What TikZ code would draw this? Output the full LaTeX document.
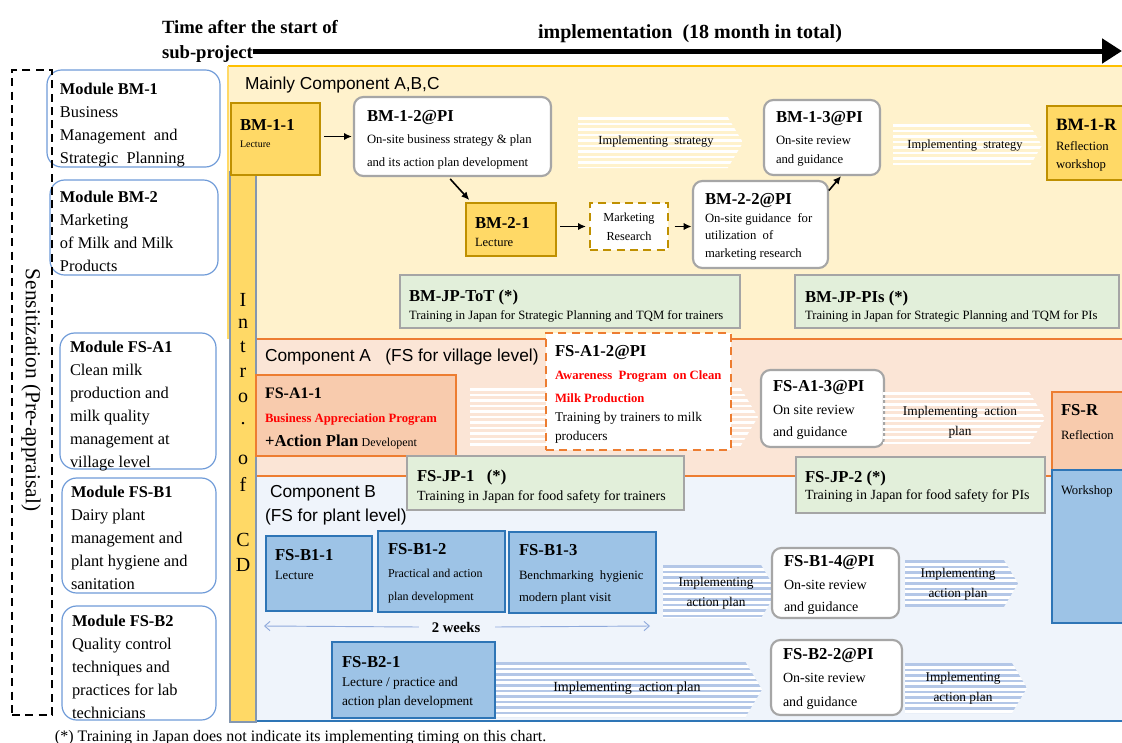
\documentclass[tikz,border=0pt]{standalone}
\usepackage{fontspec}
\setmainfont{Liberation Serif}
\setsansfont{Liberation Sans}
\usetikzlibrary{arrows.meta,calc}
\definecolor{ylbg}{HTML}{FFF2CC}
\definecolor{gold}{HTML}{FFD966}
\definecolor{goldbd}{HTML}{BF9000}
\definecolor{ytop}{HTML}{FFC000}
\definecolor{peach}{HTML}{FBE5D6}
\definecolor{orng}{HTML}{ED7D31}
\definecolor{orfill}{HTML}{F8CBAD}
\definecolor{bfill}{HTML}{9DC3E6}
\definecolor{bbd}{HTML}{2E75B6}
\definecolor{lbbg}{HTML}{EFF4FB}
\definecolor{gfill}{HTML}{E2EFDA}
\definecolor{gbd}{HTML}{A5A5A5}
\definecolor{modbd}{HTML}{6F9BD8}
\definecolor{wbd}{HTML}{A6A6A6}
\definecolor{stripeb}{HTML}{B4C7E7}
\definecolor{weeksc}{HTML}{8FAADC}
\definecolor{redt}{HTML}{FF0000}
\definecolor{introbd}{HTML}{8497B0}
\newcommand\stripechev[6]{%
  \path[#6] (#1,#2) -- ({#3-0.3*(#4-#2)},#2) -- (#3,{(#2+#4)/2}) -- ({#3-0.3*(#4-#2)},#4) -- (#1,#4) -- cycle;
  \begin{scope}
  \clip (#1,#2) -- ({#3-0.3*(#4-#2)},#2) -- (#3,{(#2+#4)/2}) -- ({#3-0.3*(#4-#2)},#4) -- (#1,#4) -- cycle;
  \pgfmathtruncatemacro\nst{(#4-#2)/5.5}
  \foreach \k in {0,...,\nst} \draw[#5, line width=1.8pt] (#1,{#2+1.5+\k*5.5}) -- (#3,{#2+1.5+\k*5.5});
  \end{scope}}
\tikzset{
  every node/.style={inner sep=0pt, outer sep=0pt},
  place/.style n args={4}{at={({(#1+#3)/2},{(#2+#4)/2})}, minimum width={(#3-#1)*0.75pt}, minimum height={(#4-#2)*0.75pt}},
  goldbox/.style={draw=goldbd, fill=gold, line width=1.6pt},
  whitebox/.style={draw=wbd, fill=white, line width=1.6pt, rounded corners=7pt},
  modbox/.style={draw=modbd, fill=white, line width=0.9pt, rounded corners=11pt},
  orbox/.style={draw=orng, fill=orfill, line width=1.6pt},
  bluebox/.style={draw=bbd, fill=bfill, line width=1.6pt},
  greenbox/.style={draw=gbd, fill=gfill, line width=1.6pt},
  dashgold/.style={draw=goldbd, fill=white, line width=2pt, dash pattern=on 6pt off 4pt},
  dashor/.style={draw=orng, fill=white, line width=2pt, dash pattern=on 6pt off 4pt},
  hd/.style={anchor=base west, font=\bfseries\fontsize{12.5}{15}\selectfont},
  tx/.style={anchor=base west, align=left},
  ctx/.style={align=center},
  modt/.style={anchor=base west, align=left, font=\fontsize{12.3}{17.25}\selectfont},
  sanst/.style={anchor=base west, font=\sffamily\fontsize{13}{15}\selectfont},
  conn/.style={-{Latex[length=6pt,width=5.5pt]}, line width=1.2pt, black},
  warr/.style={-{Straight Barb[length=4pt,width=7pt]}, line width=0.7pt, weeksc},
  introl/.style={anchor=base, font=\fontsize{15}{17}\selectfont},
}
\begin{document}
\begin{tikzpicture}[x=0.75pt,y=-0.75pt]
\useasboundingbox (0,0) rectangle (1122,743);
% ---- title
\node[anchor=base west, font=\bfseries\fontsize{14}{16}\selectfont] (t1) at (162,33) {Time after the start of};
\node[anchor=base west, font=\bfseries\fontsize{14}{16}\selectfont] (t2) at (162,58) {sub-project};
\node[anchor=base, font=\bfseries\fontsize{15}{17}\selectfont] (t3) at (690,38) {implementation\ \ (18 month in total)};
\coordinate (tip) at (1122,51);
\draw[line width=3.75pt, -{Triangle[length=15pt,width=18pt]}] (t2.east |- tip) -- (tip);
% ---- module column (multi-line nodes: base = last line)
\node[modbox, place={47}{70}{220}{167}] (m1) {};
\node[modt] (m1t) at (60,163) {\textbf{Module BM-1}\\Business\\Management\ \ and\\Strategic\ \ Planning};
\node[modbox, place={50}{180}{218}{275}] (m2) {};
\node[modt] (m2t) at (60,271) {\textbf{Module BM-2}\\Marketing\\of Milk and Milk\\Products};
\node[modbox, place={60}{333}{216}{469}] (m3) {};
\node[modt] (m3t) at (70,467) {\textbf{Module FS-A1}\\Clean milk\\production and\\milk quality\\management at\\village level};
\node[modbox, place={62}{478}{216}{593}] (m4) {};
\node[modt] (m4t) at (71,589) {\textbf{Module FS-B1}\\Dairy plant\\management and\\plant hygiene and\\sanitation};
\node[modbox, place={62}{606}{216}{720}] (m5) {};
\node[modt] (m5t) at (72,718) {\textbf{Module FS-B2}\\Quality control\\techniques and\\practices for lab\\technicians};
\node[draw, line width=1.3pt, dash pattern=on 6pt off 4pt, place={12}{70}{52}{715}] (sens) {};
\node[rotate=-90, font=\fontsize{16}{18}\selectfont] (senst) at (31,390) {Sensitization (Pre-appraisal)};
% ---- region backgrounds
\node[fill=ylbg, place={228}{66}{1122}{339}] (regY) {};
\draw[ytop, line width=1.6pt] (regY.north west) -- (regY.north east);
\draw[gold, line width=1.2pt] (regY.north west) -- (regY.south west);
\node[fill=peach, place={255}{339}{1122}{476}] (regA) {};
\draw[orng, line width=2pt] (regA.north east) -- (regA.north west) -- (regA.south west) -- (regA.south east);
\node[fill=lbbg, place={255}{476}{1122}{721}] (regB) {};
\draw[bbd, line width=2pt] (regB.north west) -- (regB.south west) -- (regB.south east);
\draw[orng, line width=2pt] (regA.south west) -- (regA.south east);
\node[fill=gold, draw=introbd, line width=0.8pt, place={230}{172}{256}{722}] (intro) {};
\foreach \c/\yy [count=\i] in {I/306, n/328, t/352, r/377, o/402, ./424, o/464, f/491, C/546, D/571}
  \node[introl] (intro\i) at (243,\yy) {\c};
% ---- Mainly component
\node[sanst] (mainly) at (245,89) {Mainly Component A,B,C};
\node[goldbox, place={231}{103}{320}{175}] (bm11) {};
\node[hd] (bm11h) at (240,130) {BM-1-1};
\node[tx, font=\fontsize{7.5}{9}\selectfont] (bm11b) at (240,147) {Lecture};
\node[whitebox, place={354}{97}{551}{176}] (bm12) {};
\node[hd] (bm12h) at (367,121) {BM-1-2@PI};
\node[tx, font=\fontsize{9.5}{17.25}\selectfont] (bm12b) at (367,166) {On-site business strategy \& plan\\and its action plan development};
\stripechev{578}{117}{743}{168}{white}{}
\node[font=\fontsize{9.3}{11}\selectfont] (is1) at (656,142) {Implementing\ \ strategy};
\node[whitebox, place={764}{100}{880}{175}] (bm13) {};
\node[hd] (bm13h) at (776,122) {BM-1-3@PI};
\node[tx, font=\fontsize{9.5}{14.25}\selectfont] (bm13b) at (776,163) {On-site review\\and guidance};
\stripechev{893}{124}{1042}{167}{white}{}
\node[font=\fontsize{9.3}{11}\selectfont] (is2) at (965,146) {Implementing\ \ strategy};
\node[goldbox, place={1047}{106}{1128}{180}] (bm1r) {};
\node[anchor=base west, font=\bfseries\fontsize{13}{15}\selectfont] (bm1rh) at (1056,130) {BM-1-R};
\node[tx, font=\fontsize{9.5}{13.5}\selectfont] (bm1rb) at (1056,168) {Reflection\\workshop};
\node[goldbox, place={466}{203}{556}{256}] (bm21) {};
\node[hd] (bm21h) at (475,228) {BM-2-1};
\node[tx, font=\fontsize{9.4}{11}\selectfont] (bm21b) at (475,246) {Lecture};
\node[dashgold, place={590}{203}{668}{250}] (mr) {};
\node[ctx, font=\fontsize{9.2}{14.25}\selectfont] (mrt) at (629,227) {Marketing\\Research};
\node[whitebox, place={693}{181}{828}{268}] (bm22) {};
\node[hd] (bm22h) at (705,204) {BM-2-2@PI};
\node[tx, font=\fontsize{9.5}{13.1}\selectfont] (bm22b) at (705,257) {On-site guidance\ \ for\\utilization\ \ of\\marketing research};
\draw[conn, shorten <=3pt, shorten >=1.5pt] (bm11.east |- bm12.west) -- (bm12.west);
\draw[conn, shorten <=3pt, shorten >=3pt] ($(bm12.south)+(-5,0)$) -- ($(bm21.north west)+(6,0)$);
\draw[conn, shorten <=3pt, shorten >=3pt] (bm21.east |- mr.west) -- (mr.west);
\draw[conn, shorten <=5pt, shorten >=1pt] (mr.east) -- (mr.east -| bm22.west);
\draw[conn, shorten <=1pt, shorten >=1pt] (bm22.26) -- (bm13.-62);
\node[greenbox, place={400}{275}{740}{328}] (jptot) {};
\node[hd] (jptoth) at (409,301) {BM-JP-ToT (*)};
\node[tx, font=\fontsize{9.5}{11}\selectfont] (jptotb) at (409,319) {Training in Japan for Strategic Planning and TQM for trainers};
\node[greenbox, place={795}{275}{1119}{328}] (jppi) {};
\node[hd] (jppih) at (805,302) {BM-JP-PIs (*)};
\node[tx, font=\fontsize{9.5}{11}\selectfont] (jppib) at (805,319) {Training in Japan for Strategic Planning and TQM for PIs};
% ---- Component A
\node[sanst] (compa) at (265,361) {Component A\ \ \ (FS for village level)};
\node[orbox, place={256}{375}{456}{456}] (fsa11) {};
\node[anchor=base west, font=\bfseries\fontsize{12}{14}\selectfont] (fsa11h) at (265,398) {FS-A1-1};
\node[tx, font=\bfseries\fontsize{9.5}{11}\selectfont, text=redt] (fsa11r) at (265,422) {Business Appreciation Program};
\node[tx] (fsa11b) at (265,446) {{\bfseries\fontsize{12.5}{14}\selectfont +Action Plan} {\fontsize{9}{11}\selectfont Developent}};
\stripechev{470}{388}{758}{446}{white}{}
\node[dashor, place={546}{333}{731}{450}] (fsa12) {};
\node[hd] (fsa12h) at (555,356) {FS-A1-2@PI};
\node[tx, font=\bfseries\fontsize{9.5}{17.25}\selectfont, text=redt] (fsa12r) at (555,402) {Awareness\ \ Program\ \ on Clean\\Milk Production};
\node[tx, font=\fontsize{10}{14.25}\selectfont] (fsa12b) at (555,440) {Training by trainers to milk\\producers};
\node[whitebox, place={761}{370}{884}{447}] (fsa13) {};
\node[hd] (fsa13h) at (773,391) {FS-A1-3@PI};
\node[tx, font=\fontsize{10.5}{16.5}\selectfont] (fsa13b) at (773,436.5) {On site review\\and guidance};
\stripechev{883}{392}{1045}{445}{white}{}
\node[ctx, font=\fontsize{10}{15}\selectfont] (iap1) at (960,422) {Implementing\ \ action\\plan};
\node[orbox, place={1052}{392}{1128}{470}] (fsr) {};
\node[hd] (fsrh) at (1061,415) {FS-R};
\node[tx, font=\fontsize{9.5}{11}\selectfont] (fsrb) at (1061,439) {Reflection};
\node[bluebox, place={1052}{470}{1128}{623}] (wshop) {};
\node[tx, font=\fontsize{9.5}{11}\selectfont] (wshopt) at (1061,494) {Workshop};
% ---- Component B
\node[sanst] (compb1) at (270,497) {Component B};
\node[sanst] (compb2) at (265,521) {(FS for plant level)};
\node[greenbox, place={407}{456}{684}{510}] (fsjp1) {};
\node[hd] (fsjp1h) at (417,481) {FS-JP-1\ \ \ (*)};
\node[tx, font=\fontsize{10.5}{12}\selectfont] (fsjp1b) at (417,500) {Training in Japan for food safety for trainers};
\node[greenbox, place={796}{457}{1045}{513}] (fsjp2) {};
\node[hd] (fsjp2h) at (805,482) {FS-JP-2 (*)};
\node[tx, font=\fontsize{10.5}{12}\selectfont] (fsjp2b) at (805,499) {Training in Japan for food safety for PIs};
\node[bluebox, place={266}{536}{372}{611}] (fsb11) {};
\node[hd] (fsb11h) at (275,560) {FS-B1-1};
\node[tx, font=\fontsize{9.5}{11}\selectfont] (fsb11b) at (275,579) {Lecture};
\node[bluebox, place={378}{531}{505}{612}] (fsb12) {};
\node[hd] (fsb12h) at (388,554) {FS-B1-2};
\node[tx, font=\fontsize{9}{17.25}\selectfont] (fsb12b) at (388,600) {Practical and action\\plan development};
\node[bluebox, place={509}{532}{656}{613}] (fsb13) {};
\node[hd] (fsb13h) at (519,555) {FS-B1-3};
\node[tx, font=\fontsize{9.5}{16.5}\selectfont] (fsb13b) at (519,601) {Benchmarking\ \ hygienic\\modern plant visit};
\stripechev{663}{565}{777}{618}{stripeb}{fill=white}
\node[ctx, font=\fontsize{10}{15}\selectfont] (iap2) at (716,593) {Implementing\\action plan};
\node[whitebox, place={772}{548}{899}{618}] (fsb14) {};
\node[hd] (fsb14h) at (784,566) {FS-B1-4@PI};
\node[tx, font=\fontsize{10.5}{16.5}\selectfont] (fsb14b) at (784,611) {On-site review\\and guidance};
\stripechev{905}{560}{1018}{607}{stripeb}{fill=white}
\node[ctx, font=\fontsize{10}{15}\selectfont] (iap3) at (958,584) {Implementing\\action plan};
\node[font=\bfseries\fontsize{11}{13}\selectfont] (wk) at (456,627) {2 weeks};
\coordinate (wkL) at (264,626);
\coordinate (wkR) at (650,626);
\draw[warr] ($(wk.west)+(-13,0)$) -- (wkL);
\draw[warr] ($(wk.east)+(15,0)$) -- (wkR);
\stripechev{495}{662}{762}{717}{stripeb}{fill=white}
\node[font=\fontsize{10.5}{12}\selectfont] (iap4) at (627,688) {Implementing\ \ action plan};
\node[bluebox, place={332}{642}{495}{718}] (fsb21) {};
\node[hd] (fsb21h) at (342,667) {FS-B2-1};
\node[tx, font=\fontsize{10}{14.25}\selectfont] (fsb21b) at (342,705) {Lecture / practice and\\action plan development};
\node[whitebox, place={771}{640}{902}{715}] (fsb22) {};
\node[hd] (fsb22h) at (783,659) {FS-B2-2@PI};
\node[tx, font=\fontsize{10.5}{18}\selectfont] (fsb22b) at (783,706) {On-site review\\and guidance};
\stripechev{905}{663}{1027}{713}{stripeb}{fill=white}
\node[ctx, font=\fontsize{10}{15}\selectfont] (iap5) at (963,688) {Implementing\\action plan};
% ---- footnote
\node[anchor=base west, font=\fontsize{12}{14}\selectfont] (foot) at (55,741) {(*) Training in Japan does not indicate its implementing timing on this chart.};
\end{tikzpicture}
\end{document}
